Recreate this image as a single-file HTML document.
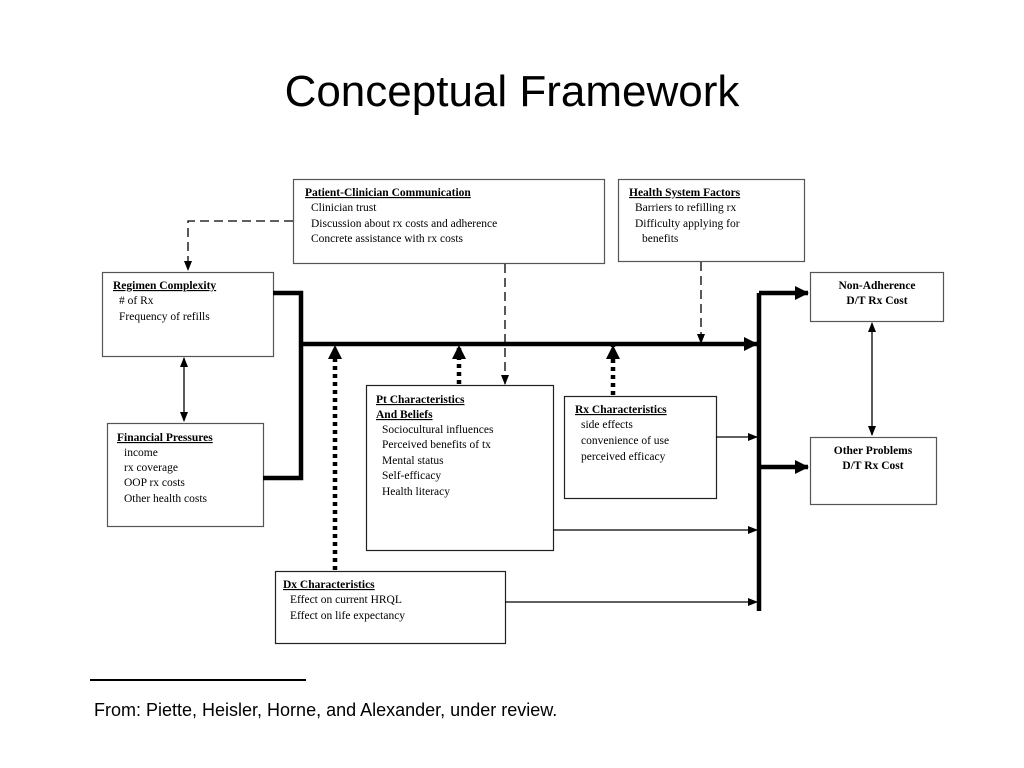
<!DOCTYPE html>
<html><head><meta charset="utf-8"><style>
body{margin:0;background:#fff;}
svg{display:block}
.t{font-family:"Liberation Serif",serif;font-size:11.5px;fill:#000}
.b{font-weight:bold}
</style></head><body>
<svg width="1024" height="768" viewBox="0 0 1024 768" xmlns="http://www.w3.org/2000/svg">
<defs>
<marker id="a" markerWidth="10" markerHeight="10" refX="9" refY="5" orient="auto" markerUnits="userSpaceOnUse"><path d="M0,1 L10,5 L0,9z"/></marker>
<marker id="a2" markerWidth="10" markerHeight="10" refX="1" refY="5" orient="auto" markerUnits="userSpaceOnUse"><path d="M10,1 L0,5 L10,9z"/></marker>
<marker id="A" markerWidth="14" markerHeight="14" refX="13" refY="7" orient="auto" markerUnits="userSpaceOnUse"><path d="M0,0 L14,7 L0,14z"/></marker>
</defs>
<text x="512" y="106" text-anchor="middle" font-family="Liberation Sans,sans-serif" font-size="44">Conceptual Framework</text>
<g fill="none" stroke="#555" stroke-width="1.2">
<rect x="293.5" y="179.5" width="311" height="84"/>
<rect x="618.5" y="179.5" width="186" height="82"/>
<rect x="102.5" y="272.5" width="171" height="84"/>
<rect x="107.5" y="423.5" width="156" height="103"/>
<rect x="366.5" y="385.5" width="187" height="165" stroke="#222"/>
<rect x="564.5" y="396.5" width="152" height="102" stroke="#222"/>
<rect x="275.5" y="571.5" width="230" height="72" stroke="#222"/>
<rect x="810.5" y="272.5" width="133" height="49"/>
<rect x="810.5" y="437.5" width="126" height="67"/>
</g>
<g stroke="#000" fill="none">
<path d="M273,293 H301 V478 H263" stroke-width="4.5"/>
<path d="M301,344 H757" stroke-width="4.5" marker-end="url(#A)"/>
<path d="M759,293 V611" stroke-width="4.5"/>
<path d="M759,293 H808" stroke-width="4.5" marker-end="url(#A)"/>
<path d="M759,467 H808" stroke-width="4.5" marker-end="url(#A)"/>
<path d="M293,221 H188 V270" stroke-width="1.3" stroke-dasharray="9,5" marker-end="url(#a)"/>
<path d="M505,264 V384" stroke-width="1.3" stroke-dasharray="9,5" marker-end="url(#a)"/>
<path d="M701,262 V343" stroke-width="1.3" stroke-dasharray="9,5" marker-end="url(#a)"/>
<path d="M335,570 V346" stroke-width="4.5" stroke-dasharray="4,4" marker-end="url(#A)"/>
<path d="M459,384 V346" stroke-width="4.5" stroke-dasharray="4,4" marker-end="url(#A)"/>
<path d="M613,395 V346" stroke-width="4.5" stroke-dasharray="4,4" marker-end="url(#A)"/>
<path d="M716,437 H757" stroke-width="1.3" marker-end="url(#a)"/>
<path d="M553,530 H757" stroke-width="1.3" marker-end="url(#a)"/>
<path d="M505,602 H757" stroke-width="1.3" marker-end="url(#a)"/>
<path d="M184,358 V421" stroke-width="1.3" marker-start="url(#a2)" marker-end="url(#a)"/>
<path d="M872,323 V435" stroke-width="1.3" marker-start="url(#a2)" marker-end="url(#a)"/>
<path d="M90,680 H306" stroke-width="2"/>
</g>
<g class="t">
<text x="305" y="196" class="b" text-decoration="underline">Patient-Clinician Communication</text>
<text x="311" y="211">Clinician trust</text>
<text x="311" y="227">Discussion about rx costs and adherence</text>
<text x="311" y="242">Concrete assistance with rx costs</text>
<text x="629" y="196" class="b" text-decoration="underline">Health System Factors</text>
<text x="635" y="211">Barriers to refilling rx</text>
<text x="635" y="227">Difficulty applying for</text>
<text x="642" y="242">benefits</text>
<text x="113" y="289" class="b" text-decoration="underline">Regimen Complexity</text>
<text x="119" y="304">  # of Rx</text>
<text x="119" y="320">Frequency of refills</text>
<text x="117" y="441" class="b" text-decoration="underline">Financial Pressures</text>
<text x="124" y="456">income</text>
<text x="124" y="471">rx coverage</text>
<text x="124" y="486">OOP rx costs</text>
<text x="124" y="502">Other health costs</text>
<text x="376" y="403" class="b" text-decoration="underline">Pt Characteristics</text>
<text x="376" y="418" class="b" text-decoration="underline">And Beliefs</text>
<text x="382" y="433">Sociocultural influences</text>
<text x="382" y="448">Perceived benefits of tx</text>
<text x="382" y="464">Mental status</text>
<text x="382" y="479">Self-efficacy</text>
<text x="382" y="495">Health literacy</text>
<text x="575" y="413" class="b" text-decoration="underline">Rx Characteristics</text>
<text x="581" y="428">side effects</text>
<text x="581" y="444">convenience of use</text>
<text x="581" y="460">perceived efficacy</text>
<text x="283" y="588" class="b" text-decoration="underline">Dx Characteristics</text>
<text x="290" y="603">Effect on current HRQL</text>
<text x="290" y="619">Effect on life expectancy</text>
<text x="877" y="289" class="b" text-anchor="middle">Non-Adherence</text>
<text x="877" y="304" class="b" text-anchor="middle">D/T Rx Cost</text>
<text x="873" y="454" class="b" text-anchor="middle">Other Problems</text>
<text x="873" y="469" class="b" text-anchor="middle">D/T Rx Cost</text>
</g>
<text x="94" y="716" font-family="Liberation Sans,sans-serif" font-size="18">From: Piette, Heisler, Horne, and Alexander, under review.</text>
</svg>
</body></html>
